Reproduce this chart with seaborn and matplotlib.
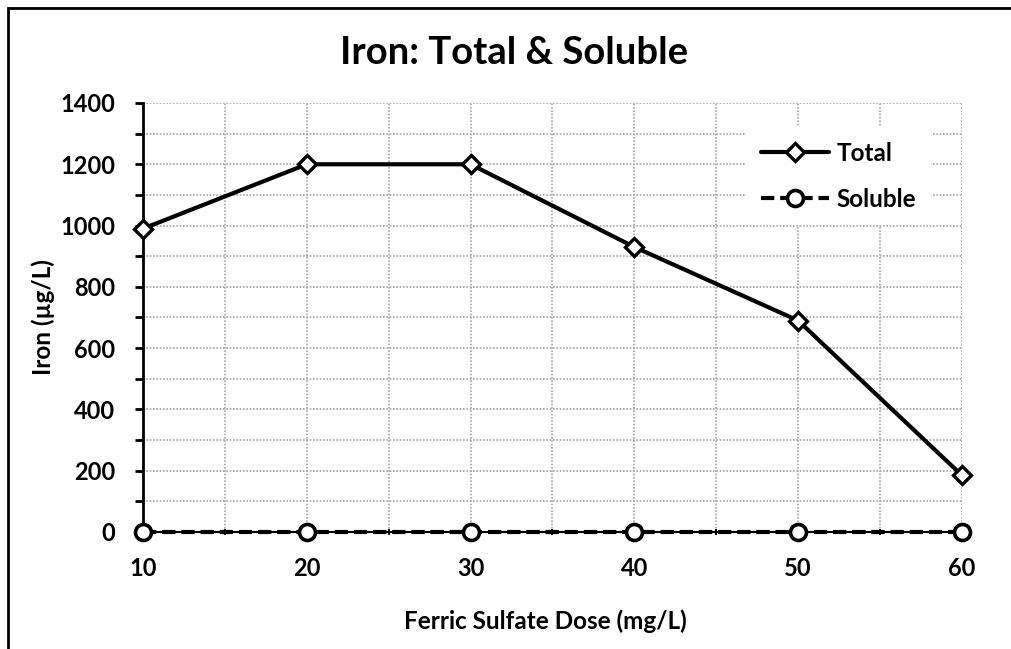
import seaborn as sns
import matplotlib.pyplot as plt
import matplotlib.patches as mpatches
from matplotlib.ticker import MultipleLocator
import pandas as pd

sns.set_style("white")
plt.rcParams['font.family'] = ['Lato', 'DejaVu Sans']
plt.rcParams['font.weight'] = 'bold'
plt.rcParams['text.color'] = 'black'
plt.rcParams['axes.labelcolor'] = 'black'
plt.rcParams['xtick.color'] = 'black'
plt.rcParams['ytick.color'] = 'black'

# data
dose = [10, 20, 30, 40, 50, 60]
total = [990, 1200, 1200, 930, 690, 185]
soluble = [0, 0, 0, 0, 0, 0]

df = pd.DataFrame({"dose": dose, "Total": total, "Soluble": soluble})

fig = plt.figure(figsize=(10.11, 6.49), dpi=100)
ax = fig.add_axes([0.1414, 0.1803, 0.81, 0.661])

# outer chart border (only left/top edges show in the original)
fig.patches.append(mpatches.Rectangle((0.008, -0.2), 1.2, 1.1877, transform=fig.transFigure,
                                      fill=False, edgecolor="black", linewidth=2))

sns.lineplot(data=df, x="dose", y="Total", ax=ax, color="black", linewidth=3,
             marker="D", markersize=9.5, markerfacecolor="white", markeredgecolor="black",
             markeredgewidth=2.4, label="Total", zorder=4, clip_on=False)
sns.lineplot(data=df, x="dose", y="Soluble", ax=ax, color="black", linewidth=3,
             linestyle=(0, (3.2, 1.4)), marker="o", markersize=11.5, markerfacecolor="white",
             markeredgecolor="black", markeredgewidth=2.6, label="Soluble", zorder=5,
             clip_on=False)

ax.set_xlim(10, 60)
ax.set_ylim(0, 1400)
ax.xaxis.set_major_locator(MultipleLocator(10))
ax.xaxis.set_minor_locator(MultipleLocator(5))
ax.yaxis.set_major_locator(MultipleLocator(200))
ax.yaxis.set_minor_locator(MultipleLocator(100))

ax.grid(which="both", color="#a6a6a6", linestyle=(0, (1, 1)), linewidth=1.2)
ax.set_axisbelow(True)

for side in ["top", "right"]:
    ax.spines[side].set_visible(False)
ax.spines["left"].set_linewidth(2)
ax.spines["left"].set_color("black")
ax.spines["bottom"].set_linewidth(1.5)
ax.spines["bottom"].set_color("black")

ax.tick_params(axis="y", which="both", direction="out", length=6, width=2, left=True, pad=14,
               labelsize=17)
ax.tick_params(axis="x", which="major", length=0, pad=18, labelsize=17)
ax.tick_params(axis="x", which="minor", direction="inout", length=5, width=1.5, bottom=True)

fig.suptitle("Iron: Total & Soluble", x=0.508, y=0.945, fontsize=27.5, fontweight="bold")
ax.set_xlabel("Ferric Sulfate Dose (mg/L)", fontsize=17.5, fontweight="bold", labelpad=21)
ax.xaxis.label.set_x(0.491)
ax.set_ylabel("Iron (µg/L)", fontsize=17.5, fontweight="bold", labelpad=4)

leg = ax.legend(loc="upper left", bbox_to_anchor=(0.722, 0.972), frameon=True, fontsize=17.5,
                handlelength=2.8, labelspacing=0.95, borderpad=0.6, handletextpad=0.3)
leg.get_frame().set_facecolor("white")
leg.get_frame().set_edgecolor("none")
leg.get_frame().set_alpha(1)
for t in leg.get_texts():
    t.set_fontweight("bold")

fig.savefig("out.png", dpi=100)
